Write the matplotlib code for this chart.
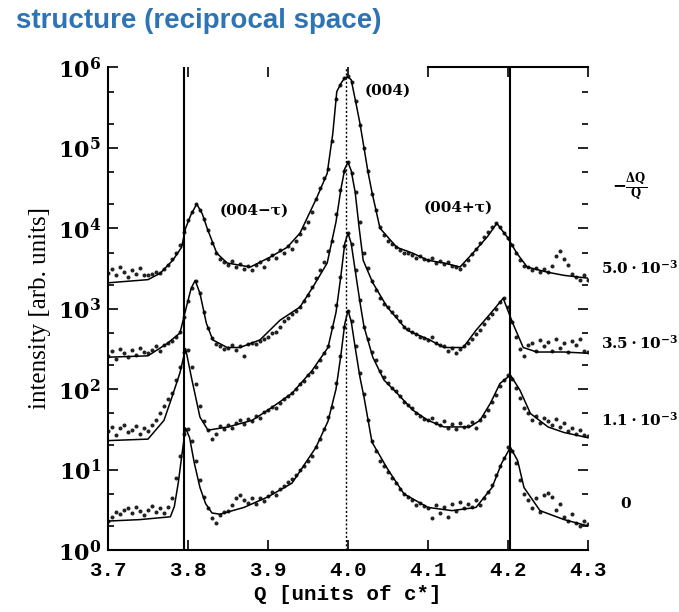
import numpy as np
import matplotlib
matplotlib.use("Agg")
import matplotlib.pyplot as plt
from matplotlib.ticker import (LogLocator, NullFormatter, FuncFormatter,
                               MultipleLocator, FixedLocator)

plt.rcParams['mathtext.fontset'] = 'dejavuserif'
plt.rcParams['mathtext.default'] = 'bf'

# ---------------- data ----------------
# measured points, one every 0.005 in Q
Q_data = np.round(np.linspace(3.70, 4.30, 121), 3)

I_data_0 = [2.3, 2.6, 3.0, 2.8, 3.2, 3.3, 2.9, 3.4, 3.1, 2.7,
            3.2, 3.5, 3.0, 3.3, 2.9, 3.4, 4.5, 8, 15, 28,
            32, 23, 13, 7.5, 4.6, 3.3, 2.5, 2.2, 2.7, 3.0,
            3.1, 3.6, 4.4, 4.8, 4.2, 3.9, 4.5, 3.8, 4.4, 4.1,
            4.7, 5.3, 4.9, 5.8, 6.2, 7.0, 7.6, 8.5, 9.8, 11,
            13, 15, 19, 24, 32, 45, 60, 120, 260, 600,
            950, 700, 340, 160, 88, 42, 23, 17, 13, 11,
            9.5, 8.0, 6.8, 5.8, 5.0, 4.6, 4.2, 3.6, 3.9, 3.5,
            3.3, 2.5, 3.6, 2.9, 3.4, 2.6, 3.7, 3.1, 4.0, 3.3,
            3.8, 3.4, 4.2, 3.6, 4.5, 5.3, 6.5, 8.5, 11, 14,
            19, 17, 12, 7.5, 5.0, 4.2, 3.3, 4.5, 3.0, 4.8,
            5.2, 4.6, 3.2, 3.8, 2.6, 2.3, 2.8, 2.2, 2.0, 2.3,
            2.1]

I_data_11 = [30, 34, 27, 33, 36, 29, 31, 35, 28, 33,
             30, 36, 42, 50, 62, 75, 90, 130, 190, 290,
             310, 190, 115, 62, 40, 31, 24, 28, 35, 32,
             36, 33, 38, 41, 37, 43, 40, 47, 44, 52,
             55, 60, 58, 68, 75, 82, 90, 100, 115, 125,
             150, 165, 190, 230, 280, 340, 600, 1100, 2500, 6000,
             8700, 6300, 3000, 1300, 600, 420, 290, 230, 170, 140,
             120, 105, 95, 82, 70, 64, 58, 50, 47, 43,
             41, 44, 38, 36, 40, 33, 37, 32, 38, 34,
             35, 39, 33, 42, 46, 55, 70, 85, 110, 130,
             150, 135, 105, 78, 58, 50, 42, 46, 38, 44,
             40, 36, 43, 34, 38, 30, 33, 28, 31, 27,
             26]

I_data_35 = [260, 300, 240, 320, 280, 250, 310, 270, 330, 290,
             280, 310, 340, 300, 350, 380, 400, 450, 520, 800,
             1250, 1800, 2200, 1550, 900, 580, 430, 360, 340, 320,
             330, 350, 310, 340, 260, 360, 380, 360, 400, 420,
             450, 500, 520, 600, 700, 760, 850, 950, 1050, 1250,
             1500, 1850, 2400, 3000, 3800, 5200, 7000, 15000, 30000, 52000,
             66000, 48000, 28000, 12000, 5000, 3200, 2200, 1700, 1350, 1150,
             1050, 900, 820, 700, 600, 560, 520, 480, 450, 430,
             410, 440, 380, 350, 340, 300, 330, 280, 320, 340,
             380, 420, 480, 540, 650, 760, 870, 1000, 1200, 1350,
             1050, 680, 450, 320, 260, 350, 380, 300, 410, 340,
             390, 300, 420, 330, 380, 290, 400, 350, 420, 300,
             290]

I_data_50 = [2800, 3100, 2600, 3300, 2900, 2500, 3000, 2700, 3200, 2600,
             2600, 2700, 2900, 2800, 3100, 3500, 4100, 5000, 6200, 9000,
             12500, 16000, 20000, 17000, 13000, 9500, 6500, 5000, 4200, 3800,
             3500, 3900, 3300, 3600, 3100, 3400, 3000, 3500, 3800, 3300,
             4200, 4600, 4300, 5400, 5000, 6000, 5600, 7000, 8500, 10000,
             12000, 16000, 23000, 32000, 42000, 55000, 120000, 400000, 600000, 730000,
             770000, 650000, 380000, 190000, 100000, 52000, 27000, 17000, 10500, 8200,
             7000, 6400, 5800, 5300, 5000, 4900, 4700, 4300, 4500, 4100,
             4000, 4300, 3700, 3900, 3600, 3800, 3400, 3300, 3100, 3500,
             4000, 4800, 5500, 6500, 7800, 9000, 10500, 11500, 10500, 8800,
             7600, 6200, 5000, 4000, 3400, 3300, 3000, 3200, 2900, 3100,
             2900, 3400, 4500, 5200, 4200, 3500, 2700, 2500, 2300, 2600,
             2300]

# fitted curves
Q_fit_0 = [3.700, 3.740, 3.778, 3.783, 3.788, 3.793, 3.797, 3.802, 3.808, 3.815,
           3.822, 3.830, 3.840, 3.870, 3.900, 3.930, 3.960, 3.975, 3.985, 3.991,
           3.996, 4.000, 4.004, 4.009, 4.015, 4.020, 4.030, 4.050, 4.070, 4.100,
           4.130, 4.160, 4.180, 4.192, 4.203, 4.212, 4.220, 4.240, 4.270, 4.300]
I_fit_0 = [2.3, 2.4, 2.6, 3.5, 7, 17, 33, 25, 12, 6,
           3.8, 2.9, 2.8, 3.4, 4.6, 6.8, 19, 40, 100, 260,
           650, 950, 700, 330, 140, 80, 22, 10, 5, 3.4,
           3.1, 3.4, 6, 12, 19, 13, 6, 3.1, 2.4, 2.0]

Q_fit_11 = [3.700, 3.750, 3.770, 3.780, 3.790, 3.797, 3.805, 3.815, 3.825, 3.850,
            3.880, 3.900, 3.930, 3.955, 3.975, 3.985, 3.991, 3.996, 4.000, 4.004,
            4.009, 4.015, 4.020, 4.031, 4.045, 4.061, 4.081, 4.100, 4.120, 4.152,
            4.165, 4.178, 4.190, 4.203, 4.215, 4.228, 4.250, 4.270, 4.300]
I_fit_11 = [23, 24, 41, 80, 160, 320, 130, 45, 31, 34,
            41, 55, 89, 170, 330, 900, 2500, 6500, 8700, 6500,
            3000, 1200, 600, 250, 130, 90, 55, 41, 34, 34,
            41, 67, 118, 150, 97, 50, 34, 29, 25]

Q_fit_35 = [3.700, 3.750, 3.774, 3.790, 3.798, 3.804, 3.809, 3.815, 3.823, 3.831,
            3.849, 3.865, 3.890, 3.915, 3.940, 3.956, 3.974, 3.985, 3.991, 3.996,
            4.000, 4.004, 4.009, 4.014, 4.019, 4.031, 4.049, 4.074, 4.102, 4.120,
            4.144, 4.160, 4.178, 4.194, 4.206, 4.219, 4.236, 4.270, 4.300]
I_fit_35 = [250, 260, 370, 500, 1050, 1800, 2250, 1550, 660, 410,
            330, 330, 410, 720, 1050, 1850, 3700, 12000, 30000, 55000,
            66000, 52000, 28000, 10000, 4000, 2100, 1050, 540, 410, 330,
            330, 540, 870, 1350, 660, 330, 290, 290, 280]

Q_fit_50 = [3.700, 3.750, 3.765, 3.781, 3.792, 3.797, 3.804, 3.811, 3.818, 3.824,
            3.836, 3.849, 3.878, 3.903, 3.924, 3.940, 3.961, 3.974, 3.981, 3.986,
            3.992, 3.996, 4.000, 4.004, 4.009, 4.015, 4.020, 4.025, 4.030, 4.040,
            4.061, 4.081, 4.100, 4.120, 4.140, 4.156, 4.174, 4.186, 4.199, 4.211,
            4.224, 4.249, 4.270, 4.300]
I_fit_50 = [2100, 2300, 2750, 4000, 5800, 10000, 15000, 20000, 15000, 10000,
            4900, 3700, 3300, 4400, 5800, 8700, 24000, 48000, 150000, 500000,
            650000, 740000, 760000, 700000, 400000, 200000, 100000, 50000, 28000, 10000,
            5800, 4900, 4000, 3700, 3300, 4900, 7800, 11500, 7800, 4900,
            3300, 2850, 2600, 2400]

y_ticks = [1, 10, 100, 1e3, 1e4, 1e5, 1e6]
x_ticks = [3.7, 3.8, 3.9, 4.0, 4.1, 4.2, 4.3]
ref_lines = [3.795, 4.202]
bragg_line = 3.998
dq_labels = ["$5.0\\cdot10^{-3}$", "$3.5\\cdot10^{-3}$", "$1.1\\cdot10^{-3}$", "$0$"]

# ---------------- figure ----------------
fig = plt.figure(figsize=(6.79, 6.12), dpi=100)
ax = fig.add_axes([0.159, 0.101, 0.707, 0.789])

curves = [(Q_fit_0, I_fit_0, I_data_0), (Q_fit_11, I_fit_11, I_data_11),
          (Q_fit_35, I_fit_35, I_data_35), (Q_fit_50, I_fit_50, I_data_50)]
for qf, fit, dat in curves:
    ax.plot(Q_data, dat, linestyle='none', marker='o', ms=1.9, color='#222222')
    ax.plot(qf, fit, color='black', lw=1.1)

for q in ref_lines:
    ax.axvline(q, color='black', lw=1.5)
ax.axvline(bragg_line, color='black', lw=1.0, linestyle=(0, (1.5, 1.5)))

ax.set_yscale('log')
ax.set_xlim(3.7, 4.3)
ax.set_ylim(1, 1e6)

ax.spines['right'].set_visible(False)
ax.spines['top'].set_bounds(4.1, 4.3)
for s in ['left', 'bottom', 'top']:
    ax.spines[s].set_linewidth(1.5)

ax.xaxis.set_major_locator(FixedLocator(x_ticks))
ax.xaxis.set_major_formatter(FuncFormatter(lambda v, p: "%.1f" % v))
ax.yaxis.set_major_locator(FixedLocator(y_ticks))
ax.yaxis.set_minor_locator(LogLocator(base=10, subs=(2, 5), numticks=10))
ax.yaxis.set_minor_formatter(NullFormatter())
ax.yaxis.set_major_formatter(FuncFormatter(lambda v, p: r"$10^{%d}$" % round(np.log10(v))))
ax.tick_params(which='both', direction='in', top=True, right=True, width=1.2)
ax.tick_params(which='major', length=7, pad=5)
ax.tick_params(which='minor', length=4)
ax.tick_params(axis='y', labelsize=16)
ax.tick_params(axis='x', labelsize=15, pad=8)
for lab in ax.get_xticklabels():
    lab.set_fontfamily('Liberation Mono')
    lab.set_fontweight('bold')

# peak labels
ax.text(4.05, 5.2e5, "(004)", fontsize=11, fontweight='bold', family='DejaVu Serif',
        ha='center', va='center')
ax.text(3.8825, 1.67e4, "(004\u2212\u03c4)", fontsize=11, fontweight='bold',
        family='DejaVu Serif', ha='center', va='center')
ax.text(4.1375, 1.8e4, "(004+\u03c4)", fontsize=11, fontweight='bold',
        family='DejaVu Serif', ha='center', va='center')

# axis labels
fig.text(40 / 679, 1 - 308 / 612, "intensity [arb. units]", rotation=90,
         fontsize=18, family='Liberation Serif', ha='center', va='center')
fig.text(348 / 679, 1 - 594 / 612, "Q [units of c*]", fontsize=15,
         family='Liberation Mono', fontweight='bold', ha='center', va='center')

# right side labels
fig.text(612 / 679, 1 - 187 / 612, r"$-\frac{\Delta Q}{Q}$", fontsize=12,
         ha='left', va='center')
label_y = [268, 343, 420]
for lab, yy in zip(dq_labels[:3], label_y):
    fig.text(601 / 679, 1 - yy / 612, lab, fontsize=11, ha='left', va='center')
fig.text(626 / 679, 1 - 503 / 612, dq_labels[3], fontsize=11, ha='center', va='center')

# title
fig.text(16 / 679, 1 - 21 / 612, "structure (reciprocal space)", fontsize=20,
         fontweight='bold', color='#2e74b5', family='Liberation Sans',
         ha='left', va='center')

fig.savefig("out.png", dpi=100)
